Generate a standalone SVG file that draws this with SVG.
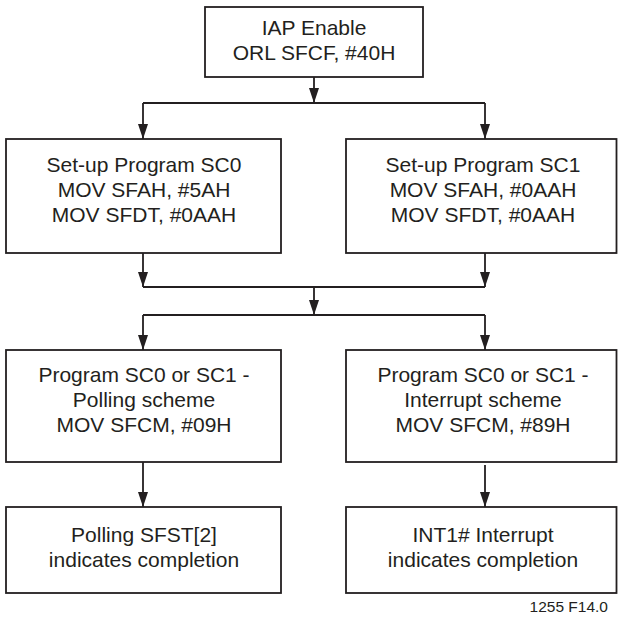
<svg xmlns="http://www.w3.org/2000/svg" width="618" height="617" viewBox="0 0 618 617">
<defs>
<marker id="a" markerUnits="userSpaceOnUse" markerWidth="15" markerHeight="10" refX="15" refY="5" orient="auto" viewBox="0 0 15 10">
<path d="M0,0 L15,5 L0,10 Z" fill="#231f20"/>
</marker>
<style>
.box{fill:#fff;stroke:#231f20;stroke-width:1.8}
.c{fill:none;stroke:#231f20;stroke-width:1.8}
text{font-family:"Liberation Sans",Arial,sans-serif;font-size:21px;fill:#231f20;text-anchor:middle}
.lbl{font-size:15.5px;text-anchor:end}
</style>
</defs>
<rect width="618" height="617" fill="#fff"/>
<g id="connectors">
<path class="c" d="M314,77 V103" marker-end="url(#a)"/>
<path class="c" d="M143,103 H485"/>
<path class="c" d="M143,103 V139" marker-end="url(#a)"/>
<path class="c" d="M485,103 V139" marker-end="url(#a)"/>
<path class="c" d="M143,253 V287" marker-end="url(#a)"/>
<path class="c" d="M485,253 V287" marker-end="url(#a)"/>
<path class="c" d="M143,287 H485"/>
<path class="c" d="M314,287 V315" marker-end="url(#a)"/>
<path class="c" d="M143,315 H485"/>
<path class="c" d="M143,315 V350" marker-end="url(#a)"/>
<path class="c" d="M485,315 V350" marker-end="url(#a)"/>
<path class="c" d="M143,462 V507" marker-end="url(#a)"/>
<path class="c" d="M485,465 V507" marker-end="url(#a)"/>
</g>
<g id="iap">
<rect class="box" x="205" y="7" width="218" height="70"/>
<text x="314" y="35">IAP Enable</text>
<text x="314" y="60">ORL SFCF, #40H</text>
</g>
<g id="setup0">
<rect class="box" x="6" y="139" width="275" height="114"/>
<text x="144" y="172">Set-up Program SC0</text>
<text x="144" y="197">MOV SFAH, #5AH</text>
<text x="144" y="222">MOV SFDT, #0AAH</text>
</g>
<g id="setup1">
<rect class="box" x="346" y="139" width="270.5" height="114"/>
<text x="483" y="172">Set-up Program SC1</text>
<text x="483" y="197">MOV SFAH, #0AAH</text>
<text x="483" y="222">MOV SFDT, #0AAH</text>
</g>
<g id="polling">
<rect class="box" x="6" y="350" width="275" height="112"/>
<text x="144" y="382">Program SC0 or SC1 -</text>
<text x="144" y="407">Polling scheme</text>
<text x="144" y="432">MOV SFCM, #09H</text>
</g>
<g id="interrupt">
<rect class="box" x="346" y="350" width="270.5" height="112"/>
<text x="483" y="382">Program SC0 or SC1 -</text>
<text x="483" y="407">Interrupt scheme</text>
<text x="483" y="432">MOV SFCM, #89H</text>
</g>
<g id="pollsfst">
<rect class="box" x="6" y="507" width="275" height="86"/>
<text x="144" y="542">Polling SFST[2]</text>
<text x="144" y="567">indicates completion</text>
</g>
<g id="int1">
<rect class="box" x="346" y="507" width="270.5" height="86"/>
<text x="483" y="542">INT1# Interrupt</text>
<text x="483" y="567">indicates completion</text>
</g>
<text class="lbl" x="608" y="612">1255 F14.0</text>
</svg>
